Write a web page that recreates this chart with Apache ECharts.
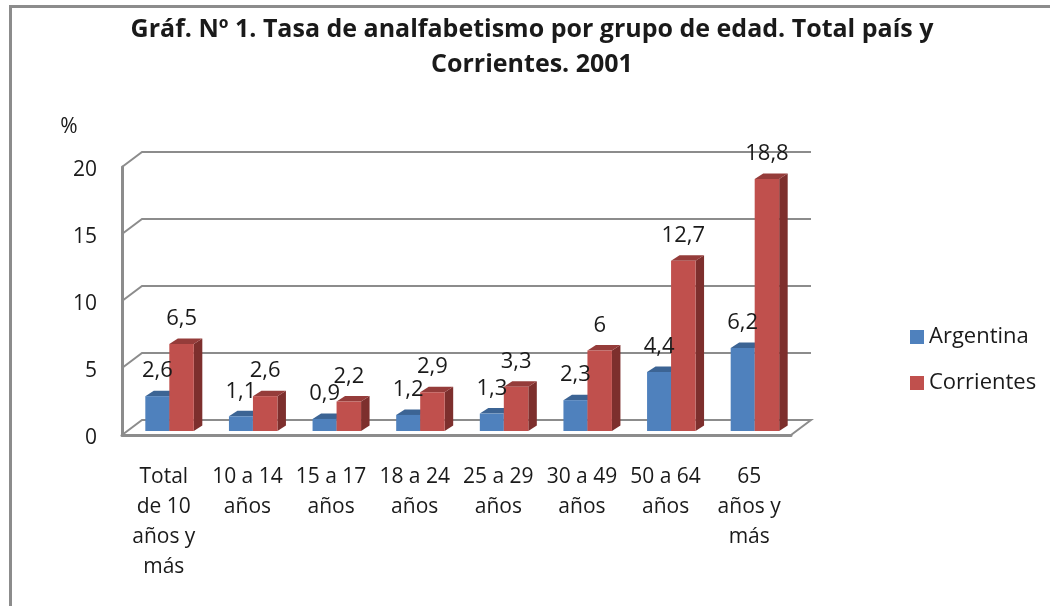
<!DOCTYPE html>
<html>
<head>
<meta charset="utf-8">
<style>
html, body { margin: 0; padding: 0; background: #fff; }
#chart { width: 1050px; height: 606px; }
</style>
<script src="https://cdn.jsdelivr.net/npm/echarts@6/dist/echarts.min.js"></script>
</head>
<body>
<div id="chart"></div>
<script>
var categories = ['Total\nde 10\naños y\nmás', '10 a 14\naños', '15 a 17\naños', '18 a 24\naños', '25 a 29\naños', '30 a 49\naños', '50 a 64\naños', '65\naños y\nmás'];
var argentina = [2.6, 1.1, 0.9, 1.2, 1.3, 2.3, 4.4, 6.2];
var corrientes = [6.5, 2.6, 2.2, 2.9, 3.3, 6, 12.7, 18.8];
var yTicks = [0, 5, 10, 15, 20];

var font = '"Open Sans", "Noto Sans", sans-serif';
var textColor = '#1a1a1a';
var gridColor = '#8c8c8c';

// fake 3d: how far the back wall and the bar sides sit from the front
var wallDx = 20, wallDy = -15;
var sideDx = 8.5, sideDy = -5.5;
var baseDy = -4;

function wallItem(params, api) {
  var box = params.coordSys;
  var y = api.coord([0, api.value(1)])[1];
  var right = box.x + box.width;
  var points = [[box.x, y], [box.x + wallDx, y + wallDy], [right + wallDx, y + wallDy]];
  // the floor also closes on the right hand side
  if (api.value(1) === 0) {
    points.push([right, y]);
  }
  return {
    type: 'polyline',
    shape: { points: points },
    style: { fill: null, stroke: gridColor, lineWidth: 2 }
  };
}

function barItem(from, to, color, topColor, sideColor) {
  return function (params, api) {
    var c = api.coord([api.value(0), api.value(1)]);
    var zero = api.coord([api.value(0), 0]);
    var l = c[0] + from, r = c[0] + to;
    var t = c[1] + baseDy, b = zero[1] + baseDy;
    return {
      type: 'group',
      children: [
        { type: 'polygon', shape: { points: [[r, t], [r + sideDx, t + sideDy], [r + sideDx, b + sideDy], [r, b]] }, style: { fill: sideColor } },
        { type: 'polygon', shape: { points: [[l, t], [l + sideDx, t + sideDy], [r + sideDx, t + sideDy], [r, t]] }, style: { fill: topColor } },
        { type: 'rect', shape: { x: l, y: t, width: to - from, height: b - t }, style: { fill: color } },
        {
          type: 'text',
          z2: 100,
          style: {
            x: (l + r) / 2,
            y: t - 25,
            text: String(api.value(1)).replace('.', ','),
            align: 'center',
            verticalAlign: 'middle',
            font: '22px ' + font,
            fill: textColor
          }
        }
      ]
    };
  };
}

function pairs(values) {
  return values.map(function (v, i) { return [i, v]; });
}

var option = {
  backgroundColor: '#fff',
  animation: false,
  title: {
    text: 'Gráf. Nº 1. Tasa de analfabetismo por grupo de edad. Total país y\nCorrientes. 2001',
    left: 532,
    top: 12,
    padding: 0,
    textAlign: 'center',
    textStyle: { color: textColor, fontFamily: font, fontSize: 25, fontWeight: 'bold', lineHeight: 35 }
  },
  legend: {
    data: ['Argentina', 'Corrientes'],
    orient: 'vertical',
    left: 910,
    top: 326,
    padding: 0,
    icon: 'rect',
    itemWidth: 14,
    itemHeight: 14,
    itemGap: 24,
    textStyle: { color: textColor, fontFamily: font, fontSize: 22 }
  },
  grid: { left: 122, right: 259, top: 167, bottom: 171 },
  xAxis: {
    type: 'category',
    data: categories,
    axisTick: { show: false },
    axisLine: { lineStyle: { color: gridColor, width: 3 } },
    axisLabel: { interval: 0, color: textColor, fontFamily: font, fontSize: 21, lineHeight: 30, margin: 27 }
  },
  yAxis: {
    type: 'value',
    min: 0,
    max: 20,
    interval: 5,
    name: '%',
    nameGap: 29,
    nameTextStyle: { color: textColor, fontFamily: font, fontSize: 21, padding: [0, 0, 0, -106] },
    splitLine: { show: false },
    axisTick: { show: false },
    axisLine: { show: true, lineStyle: { color: gridColor, width: 3 } },
    // short line box hanging from the tick pushes the numbers a little below it
    axisLabel: { color: textColor, fontFamily: font, fontSize: 21, margin: 25, verticalAlign: 'top', lineHeight: 6 }
  },
  graphic: [
    { type: 'rect', shape: { x: 9, y: 5, width: 3, height: 601 }, style: { fill: gridColor } },
    { type: 'rect', shape: { x: 9, y: 5, width: 1041, height: 3 }, style: { fill: gridColor } }
  ],
  series: [
    {
      name: 'wall',
      type: 'custom',
      z: 1,
      silent: true,
      renderItem: wallItem,
      data: yTicks.map(function (v) { return [0, v]; })
    },
    {
      name: 'Argentina',
      type: 'custom',
      z: 3,
      itemStyle: { color: '#4f81bd' },
      renderItem: barItem(-18.5, 5.5, '#4f81bd', '#3c6494', '#3c6494'),
      data: pairs(argentina)
    },
    {
      name: 'Corrientes',
      type: 'custom',
      z: 3,
      itemStyle: { color: '#c0504d' },
      renderItem: barItem(5.5, 30, '#c0504d', '#953c3a', '#7d2f2d'),
      data: pairs(corrientes)
    }
  ]
};

var myChart = echarts.init(document.getElementById('chart'));
myChart.setOption(option, true);
</script>
</body>
</html>
